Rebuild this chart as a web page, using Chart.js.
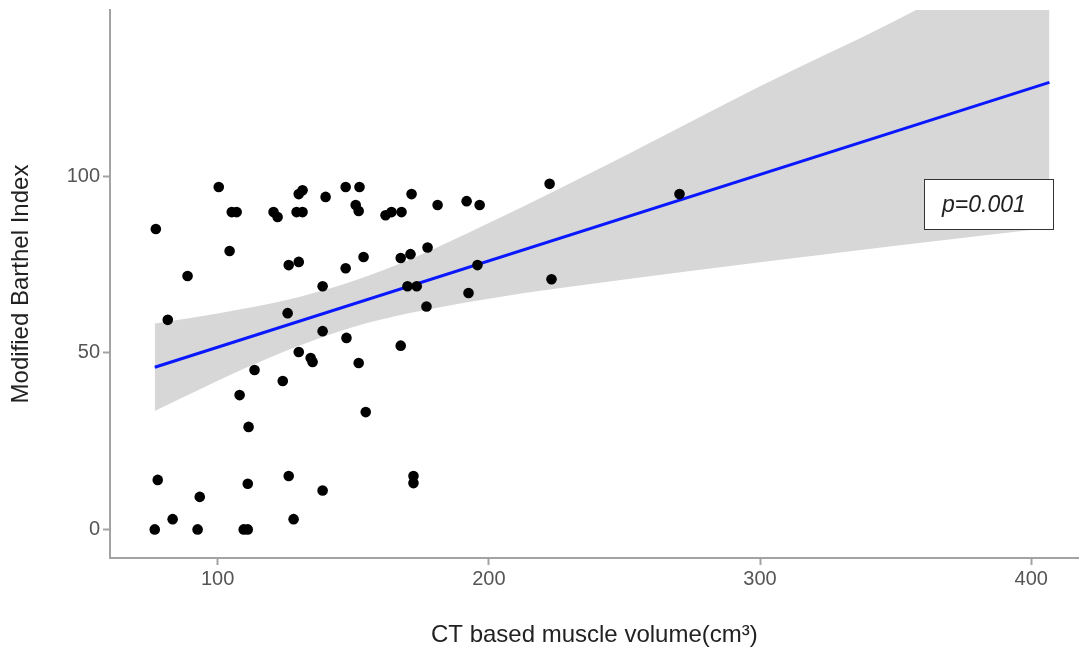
<!DOCTYPE html>
<html lang="en">
<head>
    <meta charset="UTF-8">
    <title>Modified Barthel Index vs CT based muscle volume</title>
    <script src="https://cdn.jsdelivr.net/npm/chart.js@4.4.0/dist/chart.umd.min.js"></script>
    <style>
        body {
            margin: 0;
            background: #ffffff;
        }
        .chart-box {
            width: 1084px;
            height: 652px;
        }
    </style>
</head>
<body>
    <div class="chart-box">
        <canvas id="mbiChart"></canvas>
    </div>

    <script>
        // patient points: CT muscle volume (cm3) and MBI score
        const volume = [
            76.8, 77.2, 77.9, 81.6, 83.4, 88.9, 92.6, 93.4, 100.4, 104.4,
            105.2, 107.0, 108.1, 109.6, 111.1, 111.1, 111.4, 113.6, 120.6, 122.1,
            124.0, 125.8, 126.2, 126.2, 128.0, 129.1, 129.9, 129.9, 129.9, 131.3,
            131.3, 134.3, 135.0, 138.7, 138.7, 138.7, 139.8, 147.2, 147.2, 147.5,
            150.9, 152.0, 152.3, 152.0, 153.8, 154.6, 161.9, 164.1, 167.8, 167.5,
            167.5, 170.0, 171.1, 171.5, 172.2, 172.2, 173.4, 177.0, 177.4, 181.1,
            191.8, 192.5, 195.8, 196.6, 222.4, 223.1, 270.3
        ];
        const mbi = [
            0, 85.0, 14.0, 59.3, 2.9, 71.7, 0, 9.2, 96.9, 78.8,
            89.8, 89.8, 38.0, 0, 0, 12.9, 29.0, 45.1, 89.8, 88.4,
            42.0, 61.2, 74.8, 15.1, 2.9, 89.8, 75.7, 50.2, 94.9, 96.0,
            89.8, 48.5, 47.4, 11.0, 68.8, 56.1, 94.1, 73.9, 96.9, 54.2,
            91.8, 90.1, 96.9, 47.1, 77.1, 33.2, 88.9, 89.8, 89.8, 76.8,
            52.0, 68.8, 77.9, 94.9, 15.1, 13.1, 68.8, 63.1, 79.8, 91.8,
            92.9, 66.9, 74.8, 91.8, 97.8, 70.8, 94.9
        ];

        // fitted regression line (ends)
        const fitX = [76.8, 406.7];
        const fitY = [45.9, 126.5];

        // confidence band edges
        const bandX     = [76.8, 90, 110, 130, 150, 170, 200, 250, 300, 350, 406.7];
        const bandUpper = [58.3, 59.8, 62.5, 65.8, 70.3, 76.1, 86.7, 105.7, 125.4, 144.0, 167.6];
        const bandLower = [33.5, 38.4, 45.6, 52.0, 57.3, 61.1, 65.3, 70.7, 75.6, 80.3, 85.4];

        const xTicks = [100, 200, 300, 400];
        const yTicks = [0, 50, 100];

        const pLabel = 'p=0.001';
        const pLabelAt = { x: 384.4, y: 92.0 };

        const toXY = (xs, ys) => xs.map((x, i) => ({ x: x, y: ys[i] }));

        const pValueBox = {
            id: 'pValueBox',
            afterDatasetsDraw(chart) {
                const ctx = chart.ctx;
                const cx = chart.scales.x.getPixelForValue(pLabelAt.x);
                const cy = chart.scales.y.getPixelForValue(pLabelAt.y);
                const w = 129, h = 50;
                ctx.save();
                ctx.fillStyle = '#ffffff';
                ctx.fillRect(cx - w / 2, cy - h / 2, w, h);
                ctx.strokeStyle = '#333333';
                ctx.lineWidth = 1;
                ctx.strokeRect(Math.round(cx - w / 2) + 0.5, Math.round(cy - h / 2) + 0.5, w, h);
                ctx.fillStyle = '#222222';
                ctx.font = 'italic 23px "Liberation Sans", Arial, sans-serif';
                ctx.textAlign = 'center';
                ctx.textBaseline = 'middle';
                ctx.fillText(pLabel, cx - 5, cy + 1);
                ctx.restore();
            }
        };

        const axisColor = '#a3a3a3';
        const tickFont = { family: '"Liberation Sans", Arial, sans-serif', size: 20 };
        const titleFont = { family: '"Liberation Sans", Arial, sans-serif', size: 24 };

        new Chart(document.getElementById('mbiChart'), {
            data: {
                datasets: [
                    {
                        type: 'scatter',
                        data: toXY(volume, mbi),
                        backgroundColor: '#000000',
                        borderWidth: 0,
                        pointRadius: 5.3,
                        order: 0
                    },
                    {
                        type: 'line',
                        data: toXY(fitX, fitY),
                        borderColor: '#0a18ff',
                        borderWidth: 3,
                        pointRadius: 0,
                        fill: false,
                        order: 1
                    },
                    {
                        type: 'line',
                        data: toXY(bandX, bandUpper),
                        borderWidth: 0,
                        borderColor: 'rgba(0,0,0,0)',
                        backgroundColor: '#d7d7d7',
                        pointRadius: 0,
                        cubicInterpolationMode: 'monotone',
                        fill: '+1',
                        order: 2
                    },
                    {
                        type: 'line',
                        data: toXY(bandX, bandLower),
                        borderWidth: 0,
                        borderColor: 'rgba(0,0,0,0)',
                        pointRadius: 0,
                        cubicInterpolationMode: 'monotone',
                        fill: false,
                        order: 3
                    }
                ]
            },
            options: {
                responsive: true,
                maintainAspectRatio: false,
                animation: false,
                layout: { padding: { top: 10, right: 0, left: 0, bottom: 0 } },
                plugins: {
                    legend: { display: false },
                    tooltip: { enabled: false }
                },
                scales: {
                    x: {
                        type: 'linear',
                        min: 60.3,
                        max: 417.5,
                        afterBuildTicks: s => { s.ticks = xTicks.map(v => ({ value: v })); },
                        afterFit: s => { s.height = 94; },
                        grid: { drawOnChartArea: false, drawTicks: true, tickLength: 7, tickWidth: 2, tickColor: axisColor },
                        border: { display: true, color: axisColor, width: 2 },
                        ticks: { color: '#555555', font: tickFont, padding: 2, maxRotation: 0 },
                        title: {
                            display: true,
                            text: 'CT based muscle volume(cm³)',
                            color: '#222222',
                            font: titleFont,
                            padding: { top: 0, bottom: 2 }
                        }
                    },
                    y: {
                        type: 'linear',
                        min: -8.1,
                        max: 147,
                        afterBuildTicks: s => { s.ticks = yTicks.map(v => ({ value: v })); },
                        afterFit: s => {
                            s.width = 110;
                            s.paddingTop = 0;
                            s.paddingBottom = 0;
                        },
                        grid: { drawOnChartArea: false, drawTicks: true, tickLength: 7, tickWidth: 2, tickColor: axisColor },
                        border: { display: true, color: axisColor, width: 2 },
                        ticks: { color: '#555555', font: tickFont, padding: 3 },
                        title: {
                            display: true,
                            text: 'Modified Barthel Index',
                            color: '#222222',
                            font: titleFont,
                            padding: { top: 7, bottom: 0 }
                        }
                    }
                }
            },
            plugins: [pValueBox]
        });
    </script>
</body>
</html>
